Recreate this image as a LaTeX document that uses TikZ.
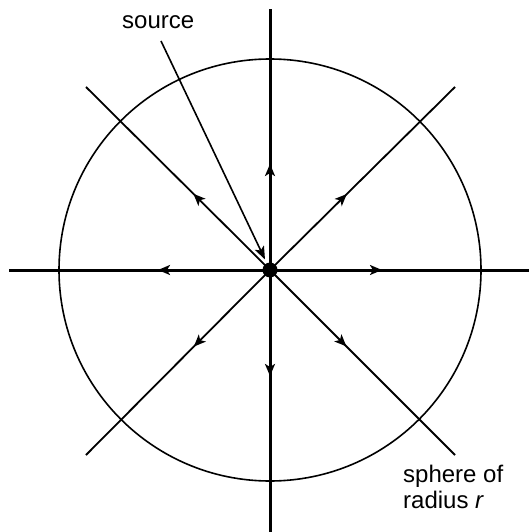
\documentclass[tikz,border=0pt]{standalone}
\usepackage{fontspec}
\setmainfont{Liberation Sans}
\usetikzlibrary{arrows.meta,decorations.markings}
\begin{document}
\begin{tikzpicture}[x=1bp,y=-1bp,
  axis/.style={line width=3bp},
  diag/.style={line width=1.8bp},
  midarrow/.style={postaction={decorate},decoration={markings,
    mark=at position #1 with {\arrow{Stealth[length=12bp,width=10bp,inset=3bp]}}}},
  lbl/.style={font=\fontsize{24bp}{26bp}\selectfont,inner sep=0pt,anchor=base west}]
\useasboundingbox (0,0) rectangle (529,532);
\coordinate (o) at (270,270);
\coordinate (n) at (270,9);
\coordinate (s) at (270,532);
\coordinate (w) at (9,270);
\coordinate (e) at (529,270);
\coordinate (ne) at (455,87);
\coordinate (nw) at (86,87);
\coordinate (sw) at (86,455);
\coordinate (se) at (455,455);
\coordinate (srcstart) at (161,41);
% sphere
\draw[line width=1.6bp] (o) circle[radius=211];
% rays
\draw[axis,midarrow=106bp] (o) -- (n);
\draw[axis,midarrow=106bp] (o) -- (s);
\draw[axis,midarrow=112bp] (o) -- (w);
\draw[axis,midarrow=112bp] (o) -- (e);
\draw[diag,midarrow=108bp] (o) -- (ne);
\draw[diag,midarrow=108bp] (o) -- (nw);
\draw[diag,midarrow=108bp] (o) -- (sw);
\draw[diag,midarrow=108bp] (o) -- (se);
% source
\node[circle,fill=black,minimum size=15bp,inner sep=0pt] (dot) at (o) {};
\node[lbl] (source) at (122,29) {source};
\draw[line width=1.6bp,-{Stealth[length=13bp,width=10bp,inset=3bp]},shorten >=4bp] (srcstart) -- (dot);
\node[lbl] (sph1) at (403,482) {sphere of};
\node[lbl] (sph2) at (403,508) {radius \textit{r}};
\end{tikzpicture}
\end{document}
